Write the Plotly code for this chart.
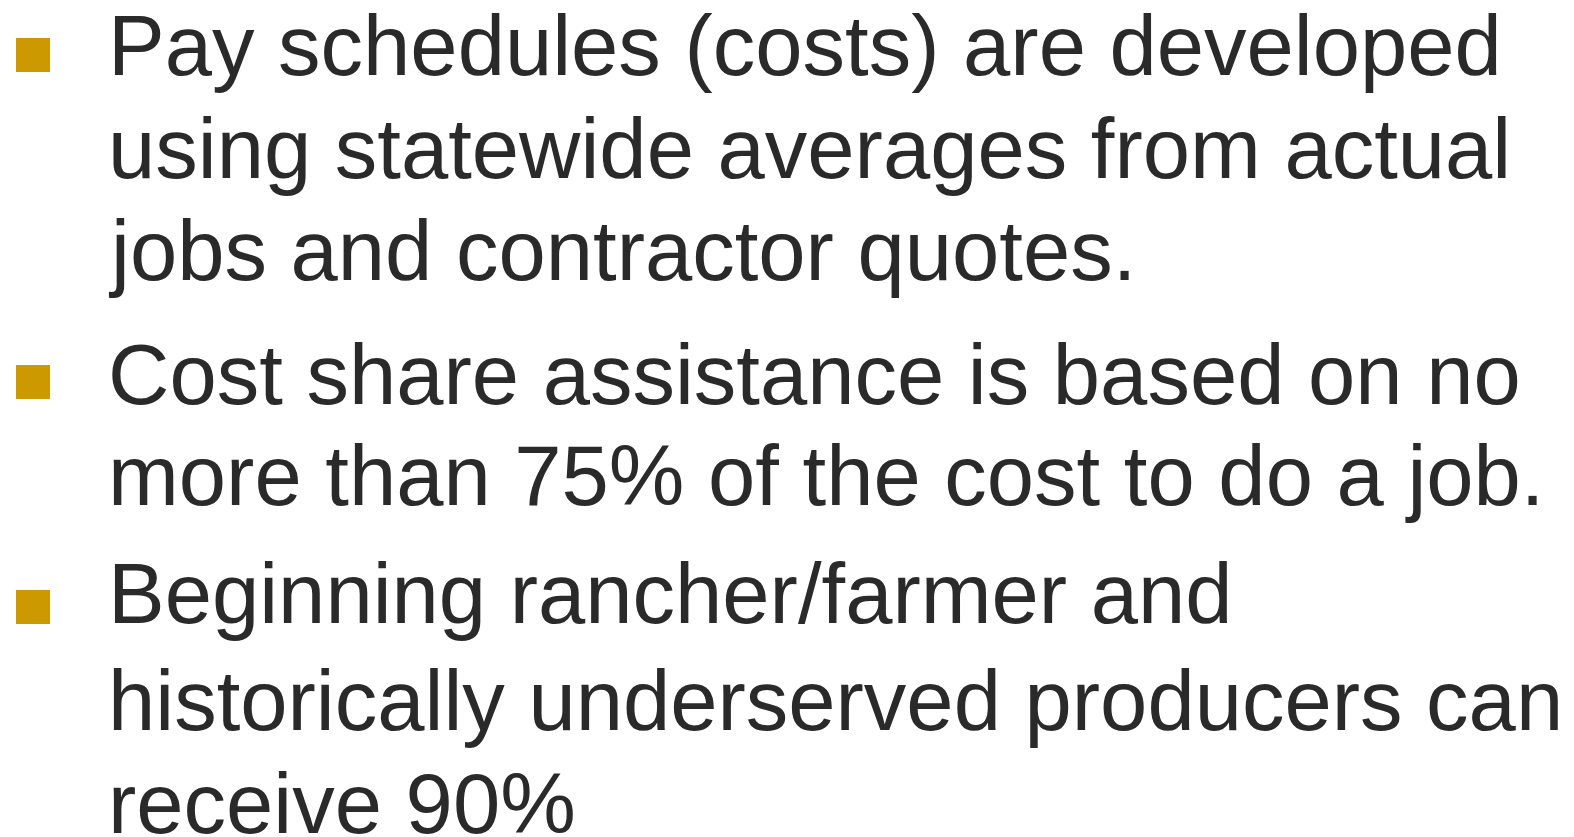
import plotly.graph_objects as go

W, H = 1574, 837

bullet_lines = [
    ["Pay schedules (costs) are developed",
     "using statewide averages from actual",
     "jobs and contractor quotes."],
    ["Cost share assistance is based on no",
     "more than 75% of the cost to do a job."],
    ["Beginning rancher/farmer and",
     "historically underserved producers can",
     "receive 90%"],
]
# baselines (pixels from top) of each line, per bullet
line_baselines = [
    [75, 178, 280],
    [404, 505],
    [623, 730, 833],
]
bullet_centers_y = [55, 382, 607]

TEXT_COLOR = "#2a2a2a"
BULLET_COLOR = "#cc9900"
FONT_SIZE = 85
TEXT_X = 106
BULLET_X = 33

fig = go.Figure()

fig.add_trace(go.Scatter(
    x=[BULLET_X] * len(bullet_centers_y),
    y=bullet_centers_y,
    mode="markers",
    marker=dict(symbol="square", size=34, color=BULLET_COLOR, line=dict(width=0)),
    hoverinfo="skip",
    showlegend=False,
    cliponaxis=False,
))

# offset from baseline to annotation vertical middle
MID_OFFSET = 30

annotations = []
for lines, bases in zip(bullet_lines, line_baselines):
    for text, base in zip(lines, bases):
        annotations.append(dict(
            x=TEXT_X, y=base - MID_OFFSET, xref="x", yref="y",
            text=text, showarrow=False,
            xanchor="left", yanchor="middle",
            font=dict(family="Liberation Sans, Arial, sans-serif",
                      size=FONT_SIZE, color=TEXT_COLOR),
        ))

fig.update_layout(
    width=W, height=H,
    margin=dict(l=0, r=0, t=0, b=0),
    paper_bgcolor="white", plot_bgcolor="white",
    xaxis=dict(range=[0, W], visible=False, fixedrange=True),
    yaxis=dict(range=[H, 0], visible=False, fixedrange=True),
    annotations=annotations,
    showlegend=False,
)

fig.write_html(
    "out.html",
    config={"displayModeBar": False},
    post_script="document.body.style.margin='0';document.body.style.overflow='hidden';",
)
